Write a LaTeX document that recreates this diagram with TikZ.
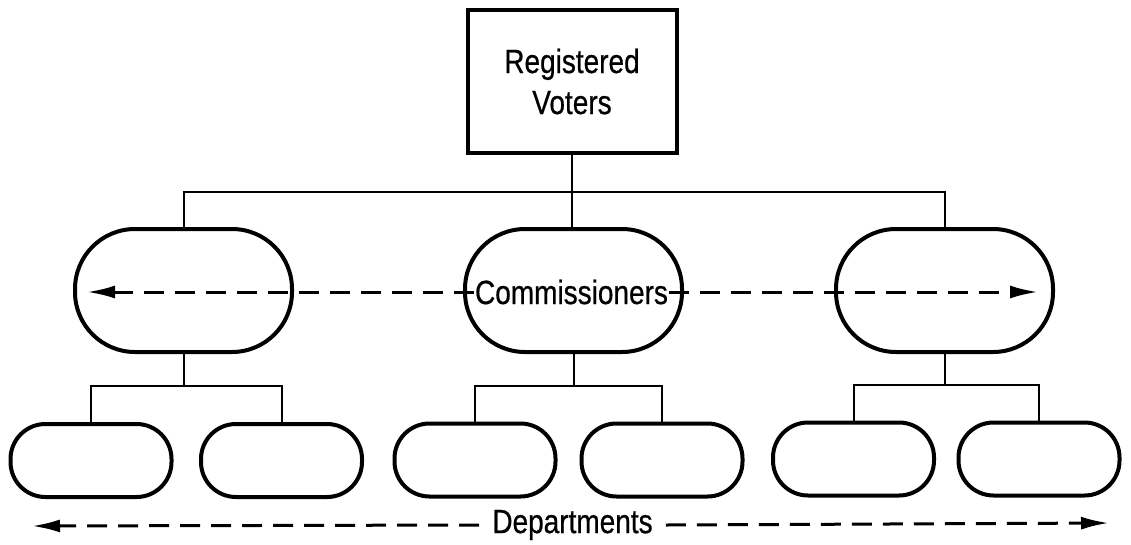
\documentclass[tikz,border=0pt]{standalone}
\usepackage{fontspec}
\setmainfont{Liberation Sans}
\newfontfamily\lblfont[FakeBold=0.7]{Liberation Sans}
\usetikzlibrary{arrows.meta}
\newcommand{\tallt}[1]{\scalebox{1}[1.2]{#1}}
\tikzset{
  bigtxt/.style={font=\lblfont\fontsize{28}{37}\selectfont},
  topbox/.style={draw, line width=4pt, minimum width=209pt, minimum height=143pt, inner sep=0pt, align=center, bigtxt},
  commoval/.style={draw, line width=4pt, rounded corners=60pt, minimum width=217pt, minimum height=123pt, inner sep=0pt},
  deptoval/.style={draw, line width=4pt, rounded corners=35pt, minimum width=161pt, minimum height=73pt, inner sep=0pt},
  conn/.style={line width=2pt},
  dasharrow/.style={line width=3pt, dash pattern=on 20pt off 11pt, -{Latex[length=28pt,width=13pt]}},
  lbl/.style={bigtxt, inner sep=1pt}
}
\begin{document}
\begin{tikzpicture}[x=1pt,y=-1pt]
\useasboundingbox (0,0) rectangle (1131,544);
% top
\node[topbox] (rv) at (572,81.5) {\tallt{Registered}\\[4pt]\tallt{Voters}};
% commissioners
\node[commoval] (c1) at (183.5,290.5) {};
\node[commoval] (c2) at (573.5,290.5) {};
\node[commoval] (c3) at (944.5,290.5) {};
% departments
\node[deptoval] (d1) at (91,460.5) {};
\node[deptoval] (d2) at (281.5,460.5) {};
\node[deptoval] (d3) at (475,460) {};
\node[deptoval] (d4) at (662,460) {};
\node[deptoval] (d5) at (853.5,459) {};
\node[deptoval] (d6) at (1039,459) {};
% connectors
\draw[conn] (rv.south) -- (rv.south |- c2.north);
\draw[conn] (c1.north) -- ++(0,-35) -| (c3.north);
\draw[conn] (d1.north) -- ++(0,-36) coordinate (h1) -| (d2.north);
\draw[conn] (c1.south) -- (c1.south |- h1);
\draw[conn] (d3.north) -- ++(0,-36) coordinate (h2) -| (d4.north);
\draw[conn] (c2.south) -- (c2.south |- h2);
\draw[conn] (d5.north) -- ++(0,-36) coordinate (h3) -| (d6.north);
\draw[conn] (c3.south) -- (c3.south |- h3);
% commissioners label and arrows
\node[lbl] (cl) at (571.5,292) {\tallt{Commissioners}};
\coordinate (cla) at (87,292);
\coordinate (clb) at (1038,292);
\draw[dasharrow] (cl.west) -- (cla);
\draw[dasharrow] (cl.east) -- (clb);
% departments label and arrows
\node[lbl] (dl) at (572.5,525) {\tallt{Departments}};
\coordinate (dla) at (32,526);
\coordinate (dlb) at (1109,523);
\draw[dasharrow] ([xshift=-12pt]dl.west) -- (dla);
\draw[dasharrow] ([xshift=12pt]dl.east) -- (dlb);
\end{tikzpicture}
\end{document}
